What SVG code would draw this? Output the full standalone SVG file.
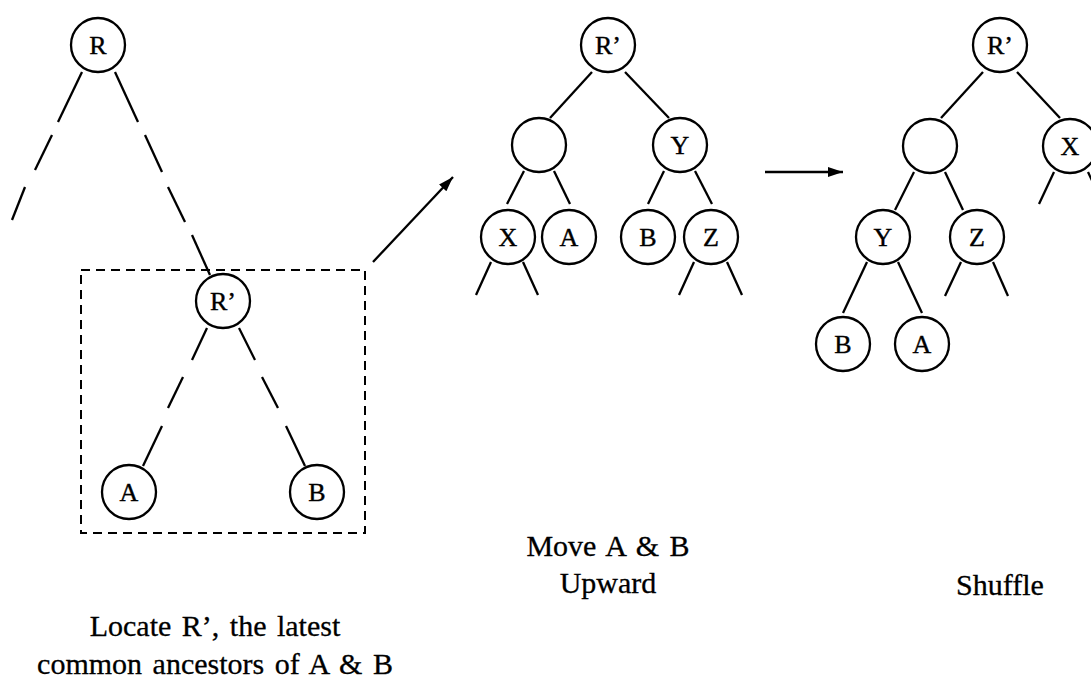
<svg xmlns="http://www.w3.org/2000/svg" width="1091" height="680" viewBox="0 0 1091 680">
<style>
.n circle{fill:#fff;stroke:#000;stroke-width:2.3}
.n text{font-family:"Liberation Serif","Times New Roman",serif;font-size:26px;text-anchor:middle;fill:#000;stroke:#000;stroke-width:0.4}
.e line{stroke:#000;stroke-width:2.3;stroke-linecap:butt}
.cap{font-family:"Liberation Serif","Times New Roman",serif;font-size:30px;text-anchor:middle;fill:#000;stroke:#000;stroke-width:0.3;word-spacing:3px}
</style>
<defs>
<marker id="ah" markerUnits="userSpaceOnUse" markerWidth="16" markerHeight="12" refX="15" refY="5" orient="auto">
<path d="M0,0 L15,5 L0,10 Z" fill="#000"/>
</marker>
</defs>
<rect fill="#fff" x="0" y="0" width="1091" height="680"/>
<g id="connectors" class="e">
<line x1="82" y1="72" x2="58" y2="122"/>
<line x1="52" y1="135" x2="35" y2="170"/>
<line x1="25" y1="187" x2="12" y2="220"/>
<line x1="115" y1="72" x2="138" y2="122"/>
<line x1="145" y1="135" x2="162" y2="172"/>
<line x1="168" y1="187" x2="185" y2="222"/>
<line x1="192" y1="235" x2="210" y2="275"/>
<line x1="207" y1="328" x2="192" y2="360"/>
<line x1="183" y1="377" x2="168" y2="408"/>
<line x1="162" y1="426" x2="143" y2="466"/>
<line x1="239" y1="328" x2="255" y2="360"/>
<line x1="262" y1="377" x2="278" y2="408"/>
<line x1="286" y1="426" x2="305" y2="466"/>
<line x1="592" y1="72" x2="550" y2="118"/>
<line x1="625" y1="72" x2="669" y2="118"/>
<line x1="524" y1="171" x2="507" y2="204"/>
<line x1="554" y1="171" x2="570" y2="204"/>
<line x1="664" y1="171" x2="648" y2="204"/>
<line x1="695" y1="171" x2="712" y2="204"/>
<line x1="491" y1="262" x2="476" y2="295"/>
<line x1="523" y1="262" x2="538" y2="295"/>
<line x1="694" y1="262" x2="679" y2="295"/>
<line x1="727" y1="262" x2="742" y2="295"/>
<line x1="983" y1="72" x2="941" y2="118"/>
<line x1="1017" y1="72" x2="1060" y2="118"/>
<line x1="914" y1="172" x2="895" y2="210"/>
<line x1="945" y1="172" x2="963" y2="210"/>
<line x1="867" y1="262" x2="843" y2="313"/>
<line x1="898" y1="262" x2="922" y2="313"/>
<line x1="961" y1="262" x2="945" y2="296"/>
<line x1="993" y1="262" x2="1008" y2="296"/>
<line x1="1054" y1="172" x2="1039" y2="204"/>
<line x1="1088" y1="172" x2="1103" y2="204"/>
<line x1="373" y1="262" x2="453" y2="177" marker-end="url(#ah)"/>
<line x1="765" y1="172" x2="843" y2="172" marker-end="url(#ah)"/>
</g>
<rect id="box" x="81" y="270" width="284" height="263" fill="none" stroke="#000" stroke-width="2" stroke-dasharray="9 6"/>
<g id="L_R" class="n"><circle cx="98" cy="45" r="27"/><text x="98" y="54">R</text></g>
<g id="L_Rp" class="n"><circle cx="223" cy="301" r="27"/><text x="223" y="310">R’</text></g>
<g id="L_A" class="n"><circle cx="129" cy="492" r="27"/><text x="129" y="501">A</text></g>
<g id="L_B" class="n"><circle cx="317" cy="492" r="27"/><text x="317" y="501">B</text></g>
<g id="M_Rp" class="n"><circle cx="608" cy="45" r="27"/><text x="608" y="54">R’</text></g>
<g id="M_E" class="n"><circle cx="539" cy="145" r="27"/></g>
<g id="M_Y" class="n"><circle cx="680" cy="145" r="27"/><text x="680" y="154">Y</text></g>
<g id="M_X" class="n"><circle cx="508" cy="237" r="27"/><text x="508" y="246">X</text></g>
<g id="M_A" class="n"><circle cx="569" cy="237" r="27"/><text x="569" y="246">A</text></g>
<g id="M_B" class="n"><circle cx="648" cy="237" r="27"/><text x="648" y="246">B</text></g>
<g id="M_Z" class="n"><circle cx="711" cy="237" r="27"/><text x="711" y="246">Z</text></g>
<g id="R_Rp" class="n"><circle cx="1000" cy="45" r="27"/><text x="1000" y="54">R’</text></g>
<g id="R_E" class="n"><circle cx="930" cy="146" r="27"/></g>
<g id="R_X" class="n"><circle cx="1070" cy="146" r="27"/><text x="1070" y="155">X</text></g>
<g id="R_Y" class="n"><circle cx="883" cy="237" r="27"/><text x="883" y="246">Y</text></g>
<g id="R_Z" class="n"><circle cx="977" cy="237" r="27"/><text x="977" y="246">Z</text></g>
<g id="R_B" class="n"><circle cx="843" cy="344" r="27"/><text x="843" y="353">B</text></g>
<g id="R_A" class="n"><circle cx="922" cy="344" r="27"/><text x="922" y="353">A</text></g>
<g id="captions">
<text class="cap" x="608" y="556">Move A &amp; B</text>
<text class="cap" x="608" y="593">Upward</text>
<text class="cap" x="1000" y="595">Shuffle</text>
<text class="cap" x="215" y="636">Locate R’, the latest</text>
<text class="cap" x="215" y="674">common ancestors of A &amp; B</text>
</g>
</svg>
